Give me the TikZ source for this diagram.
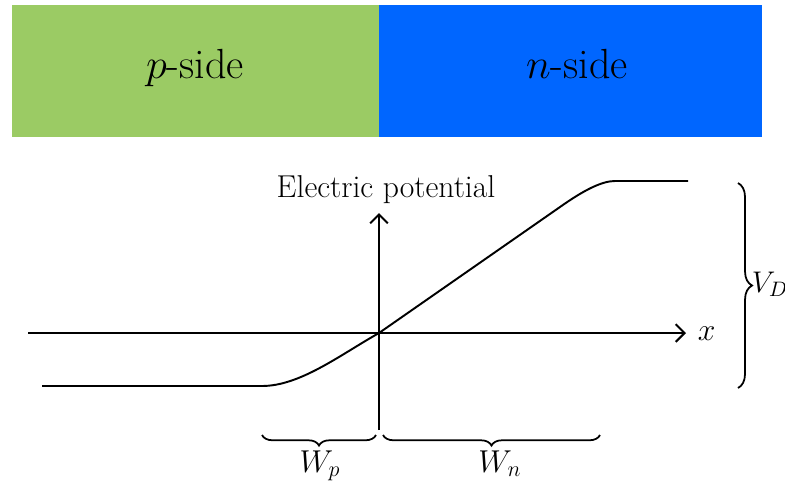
\RequirePackage{fix-cm}
\documentclass[tikz,border=0pt]{standalone}
\usepackage{fontspec}
\usetikzlibrary{arrows.meta,decorations.pathreplacing}
\definecolor{pgreen}{RGB}{155,203,100}
\definecolor{nblue}{RGB}{0,102,255}
\begin{document}
\begin{tikzpicture}[x=0.02cm, y=-0.02cm, line width=1.1pt,
  axis/.style={-{Straight Barb[length=5pt,width=10pt,line width=1.2pt]}},
  brace/.style={decorate,decoration={brace,amplitude=#1},line width=1pt},
  side/.style={font=\fontsize{24}{28}\selectfont, anchor=base, inner sep=0pt},
  lbl/.style={font=\fontsize{18}{21}\selectfont, anchor=base, inner sep=0pt}]
  \useasboundingbox (0,0) rectangle (785,491);
  % the two sides of the junction
  \fill[pgreen] (12,5) rectangle (379,137);
  \fill[nblue] (379,5) rectangle (762,137);
  \node[side] (pside) at (195,78) {$p$-side};
  \node[side] (nside) at (577,78) {$n$-side};
  % axes
  \coordinate (o) at (379,333);
  \coordinate (xl) at (28,333);
  \coordinate (xr) at (686,333);
  \coordinate (yb) at (379,430);
  \coordinate (yt) at (379,213);
  \draw[axis] (xl) -- (xr);
  \draw[axis] (yb) -- (yt);
  \node[lbl, anchor=base west] (xlab) at (697,340) {$x$};
  \node[lbl] (ylab) at (386,197) {Electric potential};
  % potential curve
  \coordinate (vl) at (42,386);
  \coordinate (wp) at (262,386);
  \coordinate (wn) at (615,181);
  \coordinate (vr) at (688,181);
  \draw (vl) -- (wp) .. controls (300,386) and (340,355) .. (o)
        -- (560,207) .. controls (584,190) and (602,181) .. (wn) -- (vr);
  % depletion widths
  \coordinate (bpl) at (262,435);
  \coordinate (bpr) at (376,435);
  \coordinate (bnl) at (383,435);
  \coordinate (bnr) at (600,435);
  \draw[brace=6pt, decoration={mirror}] (bpl) -- (bpr);
  \draw[brace=6pt, decoration={mirror}] (bnl) -- (bnr);
  \node[lbl] (wplab) at (320,472) {$W_p$};
  \node[lbl] (wnlab) at (500,472) {$W_n$};
  % built-in potential
  \coordinate (vdt) at (738,183);
  \coordinate (vdb) at (738,388);
  \draw[brace=8pt] (vdt) -- (vdb);
  \node[lbl, font=\fontsize{17}{20}\selectfont, anchor=base west] (vdlab) at (751,292) {$V_D$};
\end{tikzpicture}
\end{document}
